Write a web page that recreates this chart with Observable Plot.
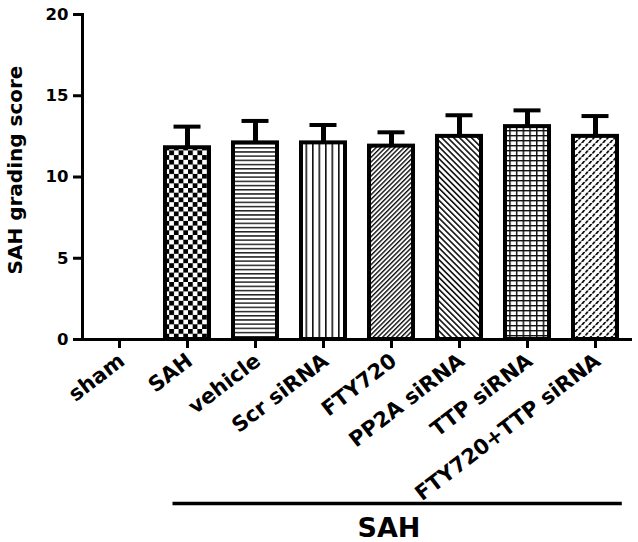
<!DOCTYPE html>
<html>
<head>
<meta charset="utf-8">
<script src="https://cdn.jsdelivr.net/npm/d3@7"></script>
<script src="https://cdn.jsdelivr.net/npm/@observablehq/plot@0.6"></script>
<style>
  html, body { margin: 0; padding: 0; background: #fff; }
  #chart svg { display: block; }
</style>
</head>
<body>
<div id="chart"></div>
<script>
// ---- data ----
const groups = ["sham", "SAH", "vehicle", "Scr siRNA", "FTY720", "PP2A siRNA", "TTP siRNA", "FTY720+TTP siRNA"];
const means  = [0, 11.8, 12.1, 12.1, 11.9, 12.5, 13.1, 12.5];
const sems   = [0, 1.3, 1.35, 1.1, 0.85, 1.3, 1.0, 1.25];
const yTicks = [0, 5, 10, 15, 20];
const yLabel = "SAH grading score";
const bracketLabel = "SAH";
const bracketGroups = groups.slice(1);

// ---- styles (fill patterns per group) ----
const patternOf = {
  "sham": null,
  "SAH": "p-check",
  "vehicle": "p-hline",
  "Scr siRNA": "p-vline",
  "FTY720": "p-fwd",
  "PP2A siRNA": "p-back",
  "TTP siRNA": "p-grid",
  "FTY720+TTP siRNA": "p-weave"
};
const patternDefs = `
<pattern id="p-check" width="9.4" height="9.4" patternUnits="userSpaceOnUse">
  <rect width="9.4" height="9.4" fill="white"/>
  <rect x="0" y="0" width="4.8" height="4.8" fill="black"/>
  <rect x="4.7" y="4.7" width="4.8" height="4.8" fill="black"/>
</pattern>
<pattern id="p-hline" width="4.2" height="4.2" patternUnits="userSpaceOnUse">
  <rect width="4.2" height="4.2" fill="white"/>
  <rect width="4.2" height="1.5" fill="#222"/>
</pattern>
<pattern id="p-vline" width="6.5" height="6.5" patternUnits="userSpaceOnUse">
  <rect width="6.5" height="6.5" fill="white"/>
  <rect width="1.6" height="6.5" fill="#111"/>
</pattern>
<pattern id="p-fwd" width="3.3" height="3.3" patternUnits="userSpaceOnUse" patternTransform="rotate(45)">
  <rect width="3.3" height="3.3" fill="white"/>
  <rect width="1.4" height="3.3" fill="#111"/>
</pattern>
<pattern id="p-back" width="4.2" height="4.2" patternUnits="userSpaceOnUse" patternTransform="rotate(-45)">
  <rect width="4.2" height="4.2" fill="white"/>
  <rect width="1.6" height="4.2" fill="#111"/>
</pattern>
<pattern id="p-grid" width="6.7" height="5" patternUnits="userSpaceOnUse">
  <rect width="6.7" height="5" fill="white"/>
  <rect width="1.5" height="5" fill="#111"/>
  <rect width="6.7" height="1.4" fill="#111"/>
</pattern>
<pattern id="p-weave" width="7" height="7" patternUnits="userSpaceOnUse">
  <rect width="7" height="7" fill="white"/>
  <path d="M0,3 L2.2,3 L4.4,0 L2.2,0 Z M3.5,6.5 L5.7,6.5 L7.9,3.5 L5.7,3.5 Z M-3.5,6.5 L-1.3,6.5 L0.9,3.5 L-1.3,3.5 Z" fill="#111"/>
</pattern>`;

const rows = groups.map((g, i) => ({group: g, mean: means[i], sem: sems[i]}));
const errRows = rows.filter(d => d.sem > 0);
const bracket = [{from: bracketGroups[0], to: bracketGroups[bracketGroups.length - 1], label: bracketLabel,
                  mid: bracketGroups[Math.floor(bracketGroups.length / 2)]}];

const plot = Plot.plot({
  width: 638,
  height: 542,
  marginLeft: 82,
  marginRight: 6,
  marginTop: 14,
  marginBottom: 203,
  style: {fontFamily: "'DejaVu Sans', sans-serif", fontWeight: "bold", color: "black", background: "white", fontSize: "16px"},
  x: {type: "band", domain: groups, paddingInner: 0.3, paddingOuter: 0.165},
  y: {domain: [0, 20]},
  color: {type: "identity"},
  marks: [
    Plot.barY(rows, {
      x: "group", y: "mean",
      fill: d => patternOf[d.group] ? `url(#${patternOf[d.group]})` : "white",
      stroke: "black", strokeWidth: 4, insetLeft: 2, insetRight: 2
    }),
    Plot.ruleX(errRows, {x: "group", y1: "mean", y2: d => d.mean + d.sem, stroke: "black", strokeWidth: 5}),
    Plot.tickY(errRows, {x: "group", y: d => d.mean + d.sem, stroke: "black", strokeWidth: 4, insetLeft: 10.5, insetRight: 10.5}),
    Plot.frame({anchor: "left", stroke: "black", strokeWidth: 3}),
    Plot.ruleY([0], {stroke: "black", strokeWidth: 3}),
    Plot.axisY({ticks: yTicks, tickSize: 9, tickPadding: 5, strokeWidth: 3, fontSize: 16.5, label: null}),
    Plot.axisX({tickSize: 9, strokeWidth: 3, tickFormat: () => "", label: null}),
    Plot.text(groups, {
      x: d => d, text: d => d, frameAnchor: "bottom", rotate: -37.5,
      textAnchor: "end", lineAnchor: "bottom", dx: 6.5, dy: 24, fontSize: 21
    }),
    Plot.text([yLabel], {
      text: d => d, frameAnchor: "left", rotate: -90, textAnchor: "middle",
      lineAnchor: "bottom", dx: -60.5, dy: -7, fontSize: 20
    }),
    Plot.ruleY(bracket, {y: () => 0, x1: "from", x2: "to", insetLeft: 9.5, insetRight: -2.8, dy: 164, stroke: "black", strokeWidth: 3.5}),
    Plot.text(bracket, {x: "mid", text: "label", frameAnchor: "bottom", lineAnchor: "bottom", dx: -2.5, dy: 197, fontSize: 27})
  ]
});

d3.select(plot).insert("defs", ":first-child").html(patternDefs);
document.getElementById("chart").appendChild(plot);
</script>
</body>
</html>
